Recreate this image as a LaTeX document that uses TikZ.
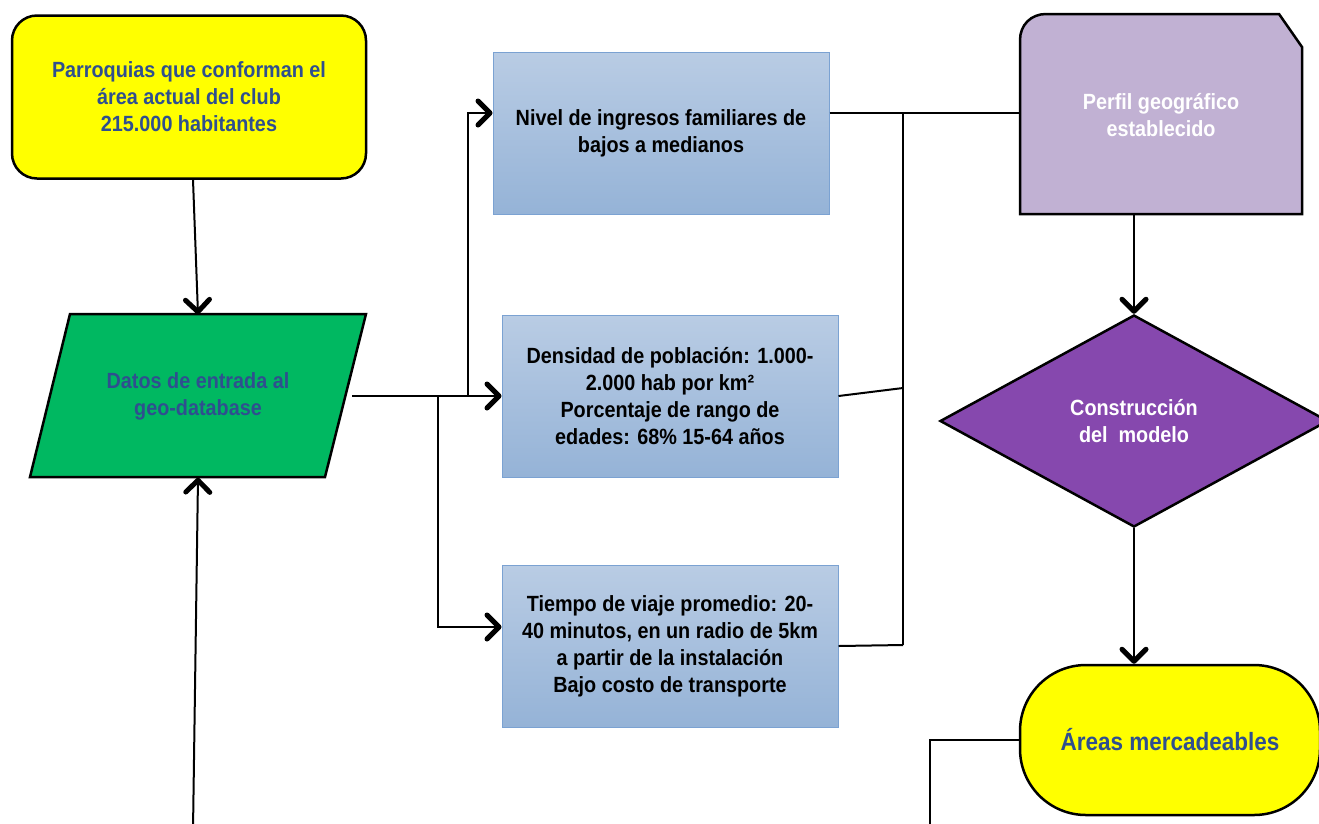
\documentclass[tikz,border=0pt]{standalone}
\usepackage{fontspec}
\setmainfont{Liberation Sans}[FakeStretch=0.9]
\usetikzlibrary{arrows.meta,shapes.geometric,calc}
\definecolor{txtblue}{HTML}{2F4F8F}
\definecolor{yel}{HTML}{FFFF00}
\definecolor{paragreen}{HTML}{00B861}
\definecolor{bluetop}{HTML}{B9CCE4}
\definecolor{bluebot}{HTML}{95B3D7}
\definecolor{blueedge}{HTML}{7BA2D2}
\definecolor{perfilpurple}{HTML}{C1B1D3}
\definecolor{diampurple}{HTML}{8648AE}
\begin{document}
\begin{tikzpicture}[x=1pt,y=-1pt,
  conn/.style={line width=2pt, black},
  arr/.style={conn, -{Straight Barb[length=12pt,width=24pt,line width=5pt,round]}},
  lbl/.style={font=\bfseries\fontsize{22}{27}\selectfont, align=center},
  bluebox/.style={rectangle, draw=blueedge, line width=1pt, top color=bluetop, bottom color=bluebot, minimum width=336pt, minimum height=162pt, lbl, text=black},
  yellowbox/.style={rectangle, draw, line width=2.5pt, fill=yel, rounded corners=25pt, lbl, text=txtblue},
  shapeedge/.style={draw=black, line width=2.5pt, line join=miter}
]
\useasboundingbox (0,0) rectangle (1319,823);
\clip (0,0) rectangle (1319,823);

% top-left yellow box
\node[yellowbox, minimum width=354pt, minimum height=163pt] (parr) at (189,97)
  {Parroquias que conforman el\\área actual del club\\215.000 habitantes};

% parallelogram
\filldraw[shapeedge, fill=paragreen] (70,314) -- (366,314) -- (325,477) -- (30,477) -- cycle;
\node[lbl, text=txtblue, minimum width=296pt, minimum height=163pt] (para) at (198,396)
  {Datos de entrada al\\geo-database};

% blue boxes
\node[bluebox] (box1) at (661,133) {Nivel de ingresos familiares de\\bajos a medianos};
\node[bluebox] (box2) at (670,396) {Densidad de población: 1.000-\\2.000 hab por km²\\Porcentaje de rango de\\edades: 68\% 15-64 años};
\node[bluebox] (box3) at (670,646) {Tiempo de viaje promedio: 20-\\40 minutos, en un radio de 5km\\a partir de la instalación\\Bajo costo de transporte};

% perfil box
\filldraw[shapeedge, fill=perfilpurple] (1020,214) -- (1020,40) .. controls (1020,25) and (1031,14) .. (1046,14) -- (1279,14) -- (1302,47) -- (1302,214) -- cycle;
\node[lbl, text=white, minimum width=282pt, minimum height=200pt] (perfil) at (1161,115)
  {Perfil geográfico\\establecido};

% diamond
\node[diamond, shapeedge, fill=diampurple, minimum width=388pt, minimum height=212pt, inner sep=0pt, lbl, text=white] (diam) at (1134,421)
  {Construcción\\del\ \ modelo};

% oval
\node[rectangle, shapeedge, fill=yel, rounded corners=66pt, minimum width=300pt, minimum height=150pt,
  font=\bfseries\fontsize{25}{30}\selectfont, text=txtblue] (areas) at (1170,740) {Áreas mercadeables};

% connectors left
\coordinate (bot) at (193,830);
\coordinate (fork1) at (438,395.5);
\coordinate (fork2) at (468,395.5);
\draw[arr] ([xshift=4pt]parr.south) -- (para.north);
\draw[arr] (bot) -- (para.south);
\draw[arr] ([xshift=6pt]para.east) -- (box2.west);
\draw[arr] (fork2) |- ([yshift=20pt]box1.west);
\draw[arr] (fork1) |- ([yshift=19pt]box3.west);

% connectors right
\coordinate (jt) at (903,113);
\coordinate (jm) at (903,388);
\coordinate (jb) at (903,645);
\draw[conn] ([yshift=20pt]box1.east) -- ([yshift=20pt]box1.east -| perfil.west);
\draw[conn] (jt) -- (jb);
\draw[conn] (box2.east) -- (jm);
\draw[conn] (box3.east) -- (jb);
\draw[arr] (perfil.south -| diam.north) -- (diam.north);
\draw[arr] (diam.south) -- (diam.south |- areas.north);
\coordinate (bot2) at (930,830);
\draw[conn] (areas.west) -| (bot2);
\end{tikzpicture}
\end{document}
